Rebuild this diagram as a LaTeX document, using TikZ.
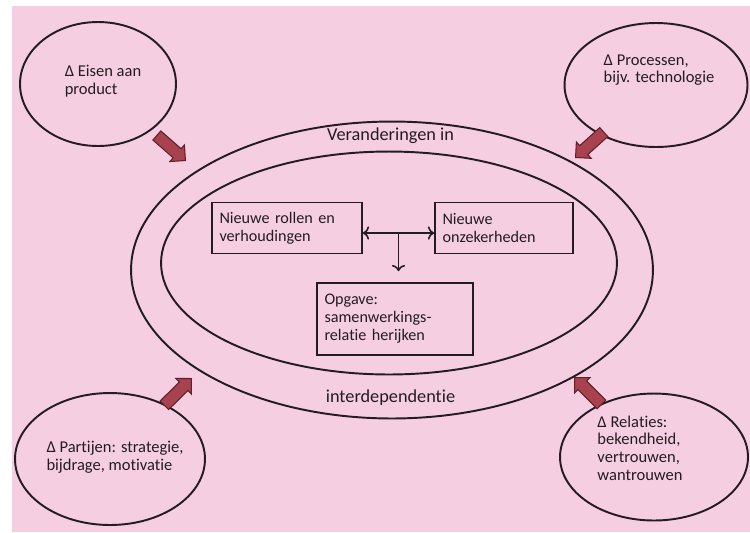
\documentclass[tikz,border=0pt]{standalone}
\usepackage{fontspec}
\setmainfont{Carlito}[Ligatures=NoCommon]
\usetikzlibrary{shapes.geometric,shapes.arrows,calc,arrows.meta}
\definecolor{pagepink}{RGB}{245,207,225}
\definecolor{arrowred}{RGB}{168,66,78}
\definecolor{arrowedge}{RGB}{95,32,42}
\definecolor{inkgray}{RGB}{35,28,32}
\tikzset{
  oval/.style={ellipse,draw=inkgray,line width=1.1pt,inner sep=0pt},
  txt/.style={text=inkgray,align=left,inner sep=0pt,font=\fontsize{9.4}{10}\selectfont},
  kop/.style={text=inkgray,inner sep=0pt,font=\fontsize{10.4}{12}\selectfont},
  kader/.style={draw=inkgray,line width=0.9pt,text=inkgray,align=left,inner xsep=0.15cm,minimum height=1.02cm,font=\fontsize{9.2}{10.2}\selectfont},
  pijl/.style={draw=inkgray,line width=0.9pt,arrows={-Straight Barb[length=0.22cm,width=0.38cm]}},
  dikpijl/.style={single arrow,draw=arrowedge,fill=arrowred,line width=0.6pt,minimum height=0.76cm,minimum width=0pt,inner xsep=0pt,inner ysep=0.11cm,single arrow head extend=0.1cm,anchor=tip,sloped,allow upside down},
}
\begin{document}
\begin{tikzpicture}[x=0.02cm,y=-0.02cm]
\fill[white](0,0)rectangle(750,532);
\fill[pagepink](12,6)rectangle(750,532);
\useasboundingbox(0,0)rectangle(750,532);
% ellipsen
\node[oval,minimum width=10.44cm,minimum height=5.94cm](buiten)at(392,270){};
\node[oval,minimum width=9.12cm,minimum height=4.46cm](binnen)at(389,263){};
\node[oval,minimum width=3.12cm,minimum height=2.48cm](eis)at(98,84){};
\node[oval,minimum width=3.66cm,minimum height=2.48cm](proc)at(656,85){};
\node[oval,minimum width=3.8cm,minimum height=2.64cm](part)at(110,459){};
\node[oval,minimum width=3.76cm,minimum height=2.54cm](rel)at(654,457){};
\node[txt](eistxt)at(103,81){Δ Eisen aan\\product};
\node[txt](proctxt)at(659,70){Δ Processen,\\bijv. technologie};
\node[txt](parttxt)at(115,457){Δ Partijen: strategie,\\bijdrage, motivatie};
\node[txt](reltxt)at(640,448){Δ Relaties:\\bekendheid,\\vertrouwen,\\wantrouwen};
\node[kop](verand)at($(buiten.north)!0.5!(binnen.north)$){Veranderingen in};
\node[kop](interdep)at($(buiten.south)!0.5!(binnen.south)$){interdependentie};
% kaders
\node[kader,text width=2.7cm](rollen)at(287,228){Nieuwe rollen en\\verhoudingen};
\node[kader,text width=2.46cm](onzeker)at(504,228){Nieuwe\\onzekerheden};
\node[kader,text width=2.82cm,minimum height=1.44cm](opgave)at(395,319){Opgave:\\samenwerkings-\\relatie herijken};
\draw[pijl,<->]([yshift=-0.1cm]rollen.east)--coordinate[midway](kruis)([yshift=-0.1cm]onzeker.west);
\draw[pijl,->,shorten >=0.22cm](kruis)--(kruis|-opgave.north);
% dikke pijlen
\coordinate(pa)at(186,161);
\coordinate(pb)at(575,158);
\coordinate(pc)at(192,378);
\coordinate(pd)at(574,377);
\foreach \van/\naar in {eis/pa,proc/pb,part/pc,rel/pd}{\path(\van)--(\naar)node[dikpijl,pos=1]{};}
\end{tikzpicture}
\end{document}
